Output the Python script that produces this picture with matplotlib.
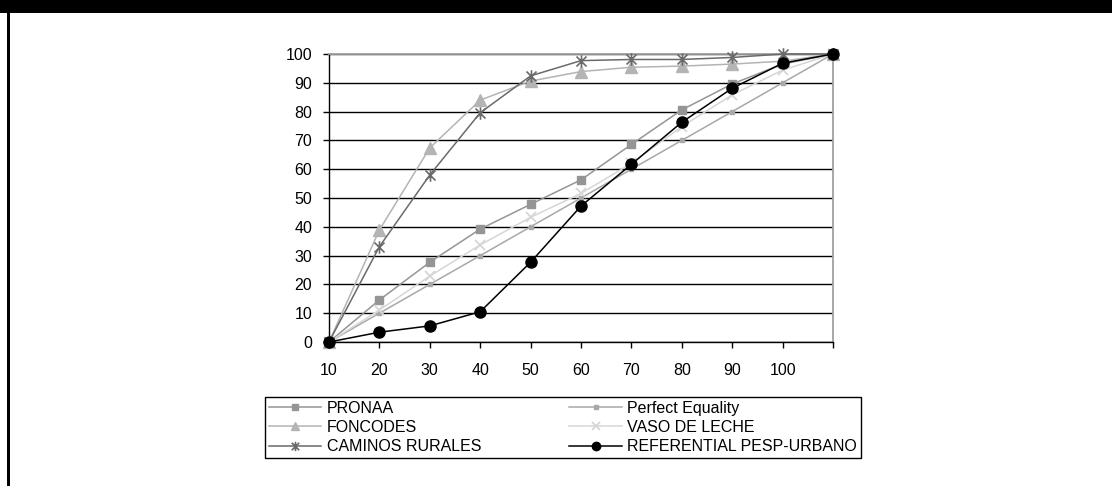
import matplotlib
matplotlib.use("Agg")
import matplotlib.pyplot as plt
from matplotlib.patches import Rectangle
from matplotlib.path import Path
import numpy as np

plt.rcParams['font.family'] = ['Liberation Sans', 'DejaVu Sans']

# population deciles (last point has no label)
x_labels = ['10', '20', '30', '40', '50', '60', '70', '80', '90', '100', '']

pronaa = [0, 14.6, 27.7, 39.2, 47.8, 56.3, 68.6, 80.6, 89.6, 96.5, 100]
perfect_equality = [0, 10, 20, 30, 40, 50, 60, 70, 80, 90, 100]
foncodes = [0, 38.9, 67.4, 84.0, 90.6, 93.9, 95.4, 95.8, 96.5, 97.5, 100]
vaso_de_leche = [0, 11.1, 22.9, 33.7, 43.3, 51.6, 62.0, 74.8, 85.8, 94.4, 100]
caminos_rurales = [0, 33.1, 58.0, 79.6, 92.4, 97.7, 98.1, 98.1, 98.8, 100, 100]
referential = [0, 3.4, 5.6, 10.5, 27.7, 47.2, 61.7, 76.3, 88.1, 96.8, 100]

# spreadsheet-style star: an x with a vertical bar through it
star = Path([(-1, -1), (1, 1), (-1, 1), (1, -1), (0, -1.25), (0, 1.25)],
            [Path.MOVETO, Path.LINETO, Path.MOVETO, Path.LINETO, Path.MOVETO, Path.LINETO])

fig = plt.figure(figsize=(11.12, 4.86), dpi=100)
ax = fig.add_axes([329 / 1112, 1 - 342 / 486, 504 / 1112, 288 / 486])

xs = np.arange(len(x_labels))
lw = 1.1
common = dict(lw=lw, clip_on=False)
l1, = ax.plot(xs, pronaa, color='#959595', marker='s', ms=6,
              mec='#959595', mfc='#959595', label='PRONAA', zorder=3, **common)
l2, = ax.plot(xs, perfect_equality, color='#a8a8a8', marker='s', ms=3.5,
              mec='#a8a8a8', mfc='#a8a8a8', label='Perfect Equality', zorder=3, **common)
l3, = ax.plot(xs, foncodes, color='#b4b4b4', marker='^', ms=8,
              mec='#b4b4b4', mfc='#b4b4b4', label='FONCODES', zorder=3, **common)
l4, = ax.plot(xs, vaso_de_leche, color='#d6d6d6', marker='x', ms=7,
              mew=1.3, mec='#d6d6d6', label='VASO DE LECHE', zorder=3, **common)
l5, = ax.plot(xs, caminos_rurales, color='#6a6a6a', marker=star, ms=9,
              mew=1.2, mec='#6a6a6a', label='CAMINOS RURALES', zorder=3, **common)
l6, = ax.plot(xs, referential, color='black', marker='o', ms=8,
              mec='black', mfc='black', label='REFERENTIAL PESP-URBANO', zorder=4, **common)

ax.set_xlim(0, 10)
ax.set_ylim(0, 100)
ax.set_xticks(xs)
ax.set_xticklabels(x_labels)
ax.set_yticks(np.arange(0, 101, 10))
ax.yaxis.grid(True, color='black', lw=1)
ax.set_axisbelow(True)

for side in ['top', 'right']:
    ax.spines[side].set_color('#a0a0a0')
    ax.spines[side].set_linewidth(1.3)
for side in ['left', 'bottom']:
    ax.spines[side].set_color('black')
    ax.spines[side].set_linewidth(1)
ax.tick_params(axis='both', direction='out', length=4, width=1, color='black',
               labelsize=11.5)
ax.tick_params(axis='y', pad=8)
ax.tick_params(axis='x', pad=11)

handles = [l1, l3, l5, l2, l4, l6]
leg = fig.legend(handles=handles, labels=[h.get_label() for h in handles],
                 ncol=2, loc='upper left',
                 bbox_to_anchor=(265 / 1112, 1 - 397 / 486), borderaxespad=0,
                 fontsize=11.5, frameon=True, fancybox=False, edgecolor='black',
                 framealpha=1, handlelength=3.3, handletextpad=0.35,
                 columnspacing=5.5, labelspacing=0.28, borderpad=0.22,
                 markerscale=0.75)
leg.get_frame().set_linewidth(1)

# black band on top and left border
fig.patches.append(Rectangle((0, 1 - 13 / 486), 1, 13 / 486, transform=fig.transFigure,
                             facecolor='black', edgecolor='none'))
fig.patches.append(Rectangle((7 / 1112, 0), 2.5 / 1112, 1, transform=fig.transFigure,
                             facecolor='black', edgecolor='none'))

fig.savefig('out.png', dpi=100)
